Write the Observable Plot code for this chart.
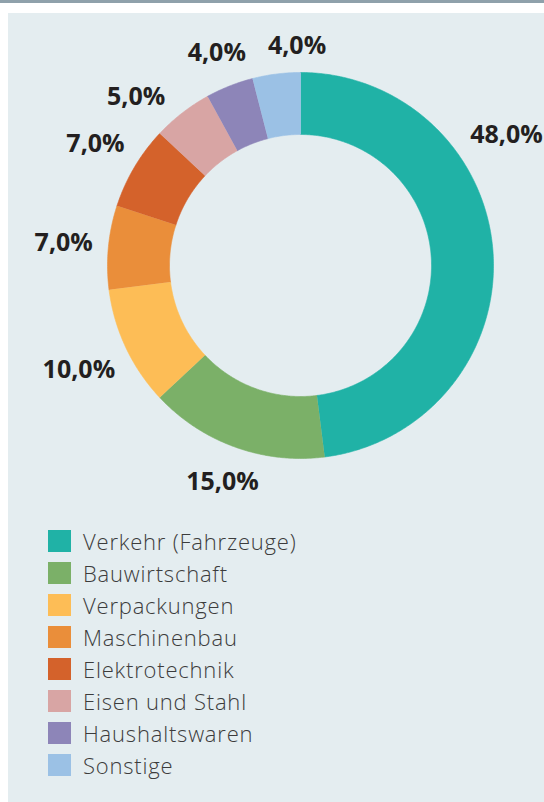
<!DOCTYPE html>
<html><head><meta charset="utf-8">
<script src="https://cdn.jsdelivr.net/npm/d3@7"></script>
<script src="https://cdn.jsdelivr.net/npm/@observablehq/plot@0.6"></script>
<style>
body{margin:0;background:#fff;font-family:"Open Sans",sans-serif;}
#bar{position:absolute;left:0;top:0;width:544px;height:3px;background:#8fa1ab}
#panel{position:absolute;left:8px;top:13px;width:536px;height:789px;background:#e4edf0;overflow:hidden}
#chart{position:absolute;left:0;top:0}
#legend{position:absolute;left:40px;top:512px}
.row{display:flex;align-items:center;height:32px}
.sw{width:23px;height:22px;margin-right:12px;flex:none}
.lab{font-size:22px;font-weight:300;letter-spacing:0.8px;color:#3c3c3c;white-space:nowrap}
</style></head><body>
<div id="bar"></div>
<div id="panel"><div id="chart"></div><div id="legend"></div></div>
<script>
const categories = ["Verkehr (Fahrzeuge)","Bauwirtschaft","Verpackungen","Maschinenbau","Elektrotechnik","Eisen und Stahl","Haushaltswaren","Sonstige"];
const shares = [48.0, 15.0, 10.0, 7.0, 7.0, 5.0, 4.0, 4.0];
const colors = ["#20b2a6","#7bb068","#fdbd56","#ea8e3a","#d4622b","#d8a5a4","#8d85b8","#9bc1e5"];

// geometry (data units: outer radius = 1)
const W = 536, H = 500, PX = 193;
const cx = 292, cy = 252;
const rOuter = 1, rInner = 131 / 193;

const total = d3.sum(shares);
const slices = [];
let acc = 0;
shares.forEach((v, i) => {
  const a0 = acc / total * 2 * Math.PI;
  acc += v;
  const a1 = acc / total * 2 * Math.PI;
  slices.push({cat: categories[i], value: v, a0, a1});
});

// polygon vertices for each slice
const verts = [];
for (const s of slices) {
  const n = Math.max(2, Math.ceil((s.a1 - s.a0) / (Math.PI / 360)));
  for (let k = 0; k <= n; k++) {
    const a = s.a0 + (s.a1 - s.a0) * k / n;
    verts.push({cat: s.cat, x: rOuter * Math.sin(a), y: rOuter * Math.cos(a)});
  }
  for (let k = n; k >= 0; k--) {
    const a = s.a0 + (s.a1 - s.a0) * k / n;
    verts.push({cat: s.cat, x: rInner * Math.sin(a), y: rInner * Math.cos(a)});
  }
}

// labels with simple collision relaxation along the circle
const fmt = v => v.toFixed(1).replace(".", ",") + "%";
const labs = slices.map(s => {
  const frac = (s.a1 - s.a0) > Math.PI / 2 ? 1 / 3 : 1 / 2;
  const text = fmt(s.value);
  return {text, a: s.a0 + (s.a1 - s.a0) * frac, w: (14 * (text.length - 2) + 28) / PX, h: 20 / PX};
});
function place(l) {
  const r = rOuter + 16 / PX + Math.abs(Math.sin(l.a)) * l.w / 2 + Math.abs(Math.cos(l.a)) * l.h / 2;
  l.x = r * Math.sin(l.a); l.y = r * Math.cos(l.a);
}
labs.forEach(place);
const pad = 24 / PX;
for (let it = 0; it < 400; it++) {
  let moved = false;
  for (let i = 0; i < labs.length; i++) {
    const p = labs[i], q = labs[(i + 1) % labs.length];
    const ox = (p.w + q.w) / 2 + pad - Math.abs(p.x - q.x);
    const oy = (p.h + q.h) / 2 + pad - Math.abs(p.y - q.y);
    if (ox > 0 && oy > 0) {
      p.a -= 0.002; q.a += 0.002; place(p); place(q); moved = true;
    }
  }
  if (!moved) break;
}
const labels = labs.map(({text, x, y}) => ({text, x, y}));

const chart = Plot.plot({
  width: W, height: H,
  margin: 0,
  x: {domain: [-cx / PX, (W - cx) / PX], axis: null},
  y: {domain: [-(H - cy) / PX, cy / PX], axis: null},
  color: {domain: categories, range: colors},
  style: {background: "transparent", fontFamily: "'Open Sans', sans-serif"},
  marks: [
    Plot.line(verts, {x: "x", y: "y", z: "cat", fill: "cat", stroke: "cat", strokeWidth: 0.6, curve: "linear"}),
    Plot.text(labels, {x: "x", y: "y", text: "text", fontSize: 25, fontWeight: 700, fill: "#231f20"})
  ]
});
document.getElementById("chart").appendChild(chart);

const legend = document.getElementById("legend");
categories.forEach((c, i) => {
  const row = document.createElement("div");
  row.className = "row";
  row.innerHTML = `<div class="sw" style="background:${colors[i]}"></div><div class="lab">${c}</div>`;
  legend.appendChild(row);
});
</script>
</body></html>
